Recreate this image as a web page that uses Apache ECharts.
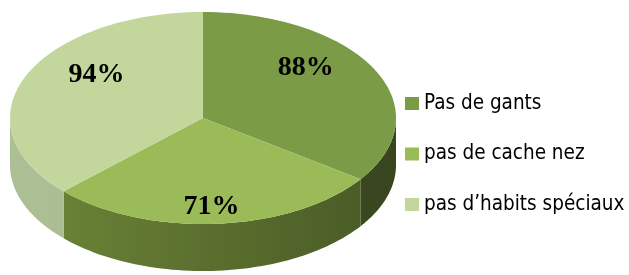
<!DOCTYPE html>
<html>
<head>
<meta charset="utf-8">
<script src="https://cdn.jsdelivr.net/npm/echarts@6/dist/echarts.min.js"></script>
<style>
html, body { margin: 0; padding: 0; background: #fff; }
#chart { width: 629px; height: 275px; }
</style>
</head>
<body>
<div id="chart"></div>
<script>
// data
const names = ['Pas de gants', 'pas de cache nez', 'pas d\u2019habits sp\u00e9ciaux'];
const values = [88, 71, 94];
const labels = ['88%', '71%', '94%'];
const topColors = ['#7b9b46', '#9bbb59', '#c3d69b'];
const sideColors = [['#4e6229', '#38451f'], ['#6e8738', '#485925'], ['#adbf95', '#a1b486']];

// geometry of the fake 3d pie
const cx = 203, cy = 118, rx = 193, ry = 106, depth = 47;
const total = values.reduce((a, b) => a + b, 0);

function arcPts(a0, a1, dy) {
    const pts = [];
    const n = 60;
    for (let k = 0; k <= n; k++) {
        const a = a0 + (a1 - a0) * k / n;
        pts.push([cx + rx * Math.cos(a), cy + ry * Math.sin(a) + dy]);
    }
    return pts;
}

function makeSeries(i) {
    let before = 0;
    for (let j = 0; j < i; j++) before += values[j];
    return {
        type: 'custom',
        name: names[i],
        coordinateSystem: 'none',
        itemStyle: { color: topColors[i] },
        data: [values[i]],
        renderItem: function (params, api) {
            const v = api.value(0);
            const start = -Math.PI / 2 + 2 * Math.PI * before / total;
            const end = start + 2 * Math.PI * v / total;
            const children = [];
            // outer wall (front half only)
            const a0 = Math.max(start, 0), a1 = Math.min(end, Math.PI);
            if (a1 > a0) {
                const pts = arcPts(a0, a1, 0).concat(arcPts(a1, a0, depth));
                children.push({
                    type: 'polygon',
                    z2: 1,
                    shape: { points: pts },
                    style: {
                        fill: {
                            type: 'linear', x: cx - rx, y: 0, x2: cx + rx, y2: 0, global: true,
                            colorStops: [{ offset: 0, color: sideColors[i][0] }, { offset: 1, color: sideColors[i][1] }]
                        }
                    }
                });
            }
            // top face
            children.push({
                type: 'polygon',
                z2: 10,
                shape: { points: [[cx, cy]].concat(arcPts(start, end, 0)) },
                style: { fill: topColors[i] }
            });
            // value label
            const mid = (start + end) / 2;
            children.push({
                type: 'text',
                z2: 20,
                x: cx + 0.6 * rx * Math.cos(mid),
                y: 112 + 0.9 * ry * Math.sin(mid),
                style: {
                    text: labels[i],
                    fill: '#000',
                    font: 'bold 28px "Liberation Serif"',
                    align: 'center',
                    verticalAlign: 'middle'
                }
            });
            return { type: 'group', children: children };
        }
    };
}

const chart = echarts.init(document.getElementById('chart'));
chart.setOption({
    animation: false,
    legend: {
        data: names,
        orient: 'vertical',
        left: 405,
        top: 93,
        padding: 0,
        icon: 'rect',
        itemWidth: 14,
        itemHeight: 13,
        itemGap: 29.5,
        selectedMode: false,
        textStyle: { fontFamily: '"DejaVu Sans Condensed", "Liberation Sans Narrow", sans-serif', fontSize: 20.5, color: '#000' }
    },
    series: [makeSeries(0), makeSeries(1), makeSeries(2)]
});
</script>
</body>
</html>
